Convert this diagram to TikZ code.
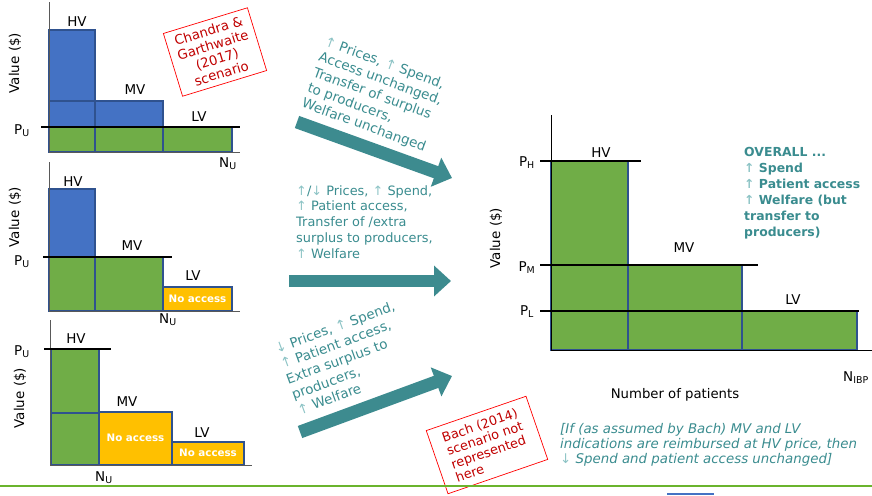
\documentclass[tikz,border=0pt]{standalone}
\usepackage{fontspec}
\setmainfont{DejaVu Sans}
\usetikzlibrary{arrows.meta}
\definecolor{barblue}{HTML}{4472C4}
\definecolor{bargreen}{HTML}{70AD47}
\definecolor{baryellow}{HTML}{FFC000}
\definecolor{baredge}{HTML}{2F528F}
\definecolor{tealtext}{HTML}{3A8C8F}
\definecolor{teallight}{HTML}{8CC3C5}
\definecolor{tealarrow}{HTML}{3D8B8F}
\definecolor{notered}{HTML}{C00000}
\definecolor{linegreen}{HTML}{6AB42D}
\newcommand{\upar}{{\color{teallight}↑}}
\newcommand{\dnar}{{\color{teallight}↓}}
\tikzstyle{bar} = [draw=baredge, line width=0.9pt]
\tikzstyle{price} = [line width=2.5pt, black]
\tikzstyle{axis} = [draw=gray!70!black, line width=0.6pt]
\tikzstyle{lbl} = [font=\fontsize{11.5}{13}\selectfont, inner sep=0pt]
\tikzstyle{noacc} = [font=\fontsize{8.8}{10}\selectfont\bfseries, text=white, inner sep=0pt]
\tikzstyle{effect} = [font=\fontsize{11.5}{14}\selectfont, text=tealtext, align=left, inner sep=0pt]
\tikzstyle{note} = [draw=red, line width=0.6pt, text=notered, align=center]
\tikzstyle{bigarrow} = [tealarrow, line width=11pt, -{Triangle[width=25.5pt,length=14.5pt]}]

\begin{document}
\begin{tikzpicture}[x=0.03cm, y=-0.03cm]
	\useasboundingbox (0,0) rectangle (872,495);
	% top panel: Chandra & Garthwaite
	\draw[bar, fill=barblue] (49,30) rectangle (95,127);
	\draw[bar, fill=barblue] (49,101) rectangle (95,127);
	\draw[bar, fill=barblue] (95,101) rectangle (163,127);
	\draw[bar, fill=bargreen] (49,127) rectangle (95,152);
	\draw[bar, fill=bargreen] (95,127) rectangle (163,152);
	\draw[bar, fill=bargreen] (163,127) rectangle (232,152);
	\draw[axis] (49,2) -- (49,152) -- (240,152);
	\draw[price] (41,127) -- (240,127);
	\node[lbl] (hv1) at (77,22) {HV};
	\node[lbl] (mv1) at (135,90) {MV};
	\node[lbl] (lv1) at (199,117) {LV};
	\node[lbl] (pu1) at (22,131) {P\textsubscript{U}};
	\node[lbl] (nu1) at (228,164) {N\textsubscript{U}};
	\node[lbl, rotate=90] (val1) at (15,63) {Value (\$)};
	\node[note, rotate=17, minimum width=75pt, minimum height=56pt, font=\fontsize{11.3}{12.6}\selectfont] (chandra) at (215,52) {Chandra \&\\Garthwaite\\(2017)\\scenario};
	% middle panel
	\draw[bar, fill=barblue] (49,189) rectangle (95,257);
	\draw[bar, fill=bargreen] (49,257) rectangle (95,311);
	\draw[bar, fill=bargreen] (95,257) rectangle (163,311);
	\draw[bar, fill=baryellow] (163,287) rectangle (232,311);
	\draw[axis] (49,162) -- (49,311) -- (240,311);
	\draw[price] (43,257) -- (172,257);
	\node[noacc] (na2) at (197.5,299) {No access};
	\node[lbl] (hv2) at (73,182) {HV};
	\node[lbl] (mv2) at (132,246) {MV};
	\node[lbl] (lv2) at (193,276) {LV};
	\node[lbl] (pu2) at (22,262) {P\textsubscript{U}};
	\node[lbl] (nu2) at (168,320) {N\textsubscript{U}};
	\node[lbl, rotate=90] (val2) at (15,217) {Value (\$)};
	% bottom panel
	\draw[bar, fill=bargreen] (51,349) rectangle (99,465);
	\draw[bar] (51,413) -- (99,413);
	\draw[bar, fill=baryellow] (99,412) rectangle (172,465);
	\draw[bar, fill=baryellow] (172,442) rectangle (244,465);
	\draw[axis] (50,320) -- (50,465) -- (252,465);
	\draw[price] (44,349) -- (111,349);
	\node[noacc] (na3m) at (135.5,438) {No access};
	\node[noacc] (na3l) at (208,453) {No access};
	\node[lbl] (hv3) at (76,339) {HV};
	\node[lbl] (mv3) at (127,402) {MV};
	\node[lbl] (lv3) at (202,433) {LV};
	\node[lbl] (pu3) at (22,352) {P\textsubscript{U}};
	\node[lbl] (nu3) at (104,478) {N\textsubscript{U}};
	\node[lbl, rotate=90] (val3) at (20,398) {Value (\$)};
	% arrows and effects
	\coordinate (a1s) at (297,122); \coordinate (a1e) at (452,178);
	\coordinate (a2s) at (289,281); \coordinate (a2e) at (451,281);
	\coordinate (a3s) at (300,432); \coordinate (a3e) at (452,376);
	\draw[bigarrow] (a1s) -- (a1e);
	\draw[bigarrow] (a2s) -- (a2e);
	\draw[bigarrow] (a3s) -- (a3e);
	\node[effect, rotate=-20] (eff1) at (375,95) {\upar{} Prices, \upar{} Spend,\\Access unchanged,\\Transfer of surplus\\to producers,\\Welfare unchanged};
	\node[effect, anchor=north west, font=\fontsize{11}{13.6}\selectfont] (eff2) at (296,185) {\upar/\dnar{} Prices, \upar{} Spend,\\\upar{} Patient access,\\Transfer of /extra\\surplus to producers,\\\upar{} Welfare};
	\node[effect, rotate=20] (eff3) at (346,358) {\dnar{} Prices, \upar{} Spend,\\\upar{} Patient access,\\Extra surplus to\\producers,\\\upar{} Welfare};
	% overall panel
	\draw[bar, fill=bargreen] (551,161) rectangle (628,350);
	\draw[bar, fill=bargreen] (628,265) rectangle (742,350);
	\draw[bar, fill=bargreen] (742,311) rectangle (857,350);
	\draw[black, line width=0.6pt] (551,115) -- (551,350) -- (872,350);
	\draw[price] (540,161) -- (641,161);
	\draw[price] (540,265) -- (758,265);
	\draw[price] (540,311) -- (859,311);
	\node[lbl] (hv4) at (601,153) {HV};
	\node[lbl] (mv4) at (684,248) {MV};
	\node[lbl] (lv4) at (793,300) {LV};
	\node[lbl] (ph) at (527,163) {P\textsubscript{H}};
	\node[lbl] (pm) at (527,268) {P\textsubscript{M}};
	\node[lbl] (pl) at (527,312) {P\textsubscript{L}};
	\node[lbl, anchor=west] (nibp) at (843,378) {N\textsubscript{IBP}};
	\node[lbl, font=\fontsize{11.3}{12}\selectfont] (npat) at (675,395) {Number of patients};
	\node[lbl, rotate=90, font=\fontsize{11.5}{12}\selectfont] (val4) at (496,238) {Value (\$)};
	\node[effect, anchor=north west, font=\fontsize{10.6}{13.6}\selectfont\bfseries] (overall) at (744,147) {OVERALL ...\\\upar{} Spend\\\upar{} Patient access\\\upar{} Welfare (but\\transfer to\\producers)};
	\node[effect, anchor=north west, font=\fontsize{11.4}{13}\selectfont\itshape] (ifnote) at (560,423) {[If (as assumed by Bach) MV and LV\\indications are reimbursed at HV price, then\\\dnar{} Spend and patient access unchanged]};
	\node[note, rotate=19, align=left, minimum width=90pt, minimum height=57pt, font=\fontsize{11}{12}\selectfont] (bach) at (487,445) {Bach (2014)\\scenario not\\represented\\here};
	% footer
	\draw[linegreen, line width=1.7pt] (0,486) -- (872,486);
	\fill[barblue] (667,493) rectangle (714,495);
\end{tikzpicture}
\end{document}
